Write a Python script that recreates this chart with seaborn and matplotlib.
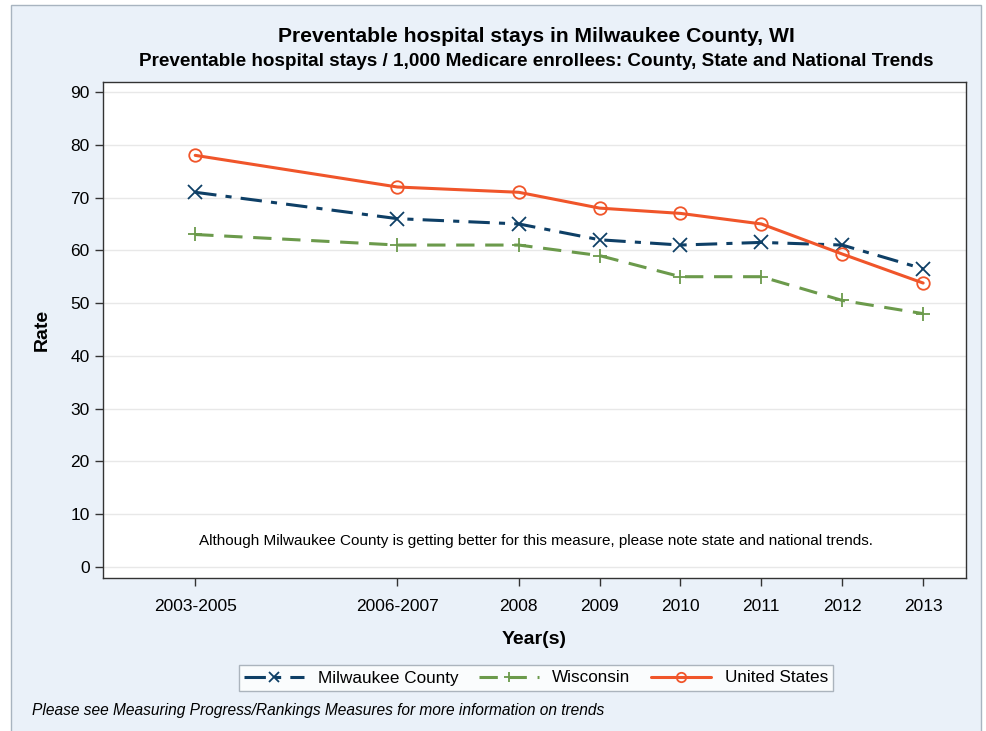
import pandas as pd
import seaborn as sns
import matplotlib.pyplot as plt
from matplotlib.patches import Rectangle

# 데이터
periods = ["2003-2005", "2006-2007", "2008", "2009", "2010", "2011", "2012", "2013"]
period_pos = [2004, 2006.5, 2008, 2009, 2010, 2011, 2012, 2013]
milwaukee = [71, 66, 65, 62, 61, 61.5, 61, 56.5]
wisconsin = [63, 61, 61, 59, 55, 55, 50.5, 48]
united_states = [78, 72, 71, 68, 67, 65, 59.3, 53.8]

series_names = ["Milwaukee County", "Wisconsin", "United States"]
series_values = [milwaukee, wisconsin, united_states]
colors = ["#0e3f66", "#6b9a4b", "#f0552a"]
markers = ["x", "+", "o"]
linestyles = [(0, (7, 3, 2, 3)), (0, (6, 3.5)), "-"]

rows = []
for name, vals in zip(series_names, series_values):
    for p, pos, v in zip(periods, period_pos, vals):
        rows.append({"series": name, "period": p, "pos": pos, "rate": v})
df = pd.DataFrame(rows)

sns.set_style("white")
plt.rcParams["font.family"] = ["Liberation Sans", "DejaVu Sans"]
plt.rcParams["text.color"] = "black"
plt.rcParams["axes.labelcolor"] = "black"
plt.rcParams["xtick.color"] = "black"
plt.rcParams["ytick.color"] = "black"

fig = plt.figure(figsize=(9.87, 7.31), dpi=100)
fig.patch.set_facecolor("white")
# 바깥 배경 박스
fig.patches.append(Rectangle((11 / 987, -0.01), 970 / 987, 1 - 5 / 731 + 0.01,
                             transform=fig.transFigure, facecolor="#eaf1f9",
                             edgecolor="#a8b4c0", linewidth=1, zorder=-1))

ax = fig.add_axes([103 / 987, 1 - 578 / 731, 863 / 987, 496 / 731])
ax.set_facecolor("white")

for name, c, m, ls in zip(series_names, colors, markers, linestyles):
    sub = df[df["series"] == name]
    sns.lineplot(data=sub, x="pos", y="rate", ax=ax, color=c, label=name,
                 marker=m, markersize=10 if m != "o" else 9,
                 markerfacecolor="none", markeredgecolor=c,
                 markeredgewidth=1.3, linewidth=2.2, linestyle=ls)

ax.set_xlim(2002.86, 2013.53)
ax.set_ylim(-2.1, 91.9)
ax.set_yticks(range(0, 91, 10))
ax.set_xticks(period_pos)
ax.set_xticklabels(periods)
ax.tick_params(axis="both", labelsize=12.5, direction="out", length=6,
               width=1, color="#333333", left=True, bottom=True)
ax.tick_params(axis="x", pad=9)
ax.yaxis.grid(True, color="#e8e8e8", linewidth=1)
ax.xaxis.grid(False)
for s in ax.spines.values():
    s.set_color("#333333")
    s.set_linewidth(1)

ax.set_xlabel("Year(s)", fontsize=14, fontweight="bold", labelpad=12)
ax.set_ylabel("Rate", fontsize=14, fontweight="bold", labelpad=14)

ax.text(0.502, 1 - (541 - 82) / 496,
        "Although Milwaukee County is getting better for this measure, please note state and national trends.",
        transform=ax.transAxes, ha="center", va="center", fontsize=11)

fig.text(536 / 987, 1 - 37 / 731, "Preventable hospital stays in Milwaukee County, WI",
         ha="center", va="center", fontsize=15.2, fontweight="bold")
fig.text(536 / 987, 1 - 61 / 731,
         "Preventable hospital stays / 1,000 Medicare enrollees: County, State and National Trends",
         ha="center", va="center", fontsize=13.6, fontweight="bold")

ax.get_legend().remove()
handles, labels = ax.get_legend_handles_labels()
leg = fig.legend(handles, labels, loc="center", ncol=3,
                 bbox_to_anchor=(536 / 987, 1 - 678 / 731), fontsize=12.3,
                 frameon=True, fancybox=False, edgecolor="#9aa4ae",
                 handlelength=3.5, columnspacing=1.2, borderpad=0.3,
                 handletextpad=0.8, markerscale=0.75)
leg.get_frame().set_linewidth(1)

fig.text(32 / 987, 1 - 710 / 731,
         "Please see Measuring Progress/Rankings Measures for more information on trends",
         ha="left", va="center", fontsize=11.2, style="italic")

fig.savefig("out.png", dpi=100, facecolor=fig.get_facecolor())
